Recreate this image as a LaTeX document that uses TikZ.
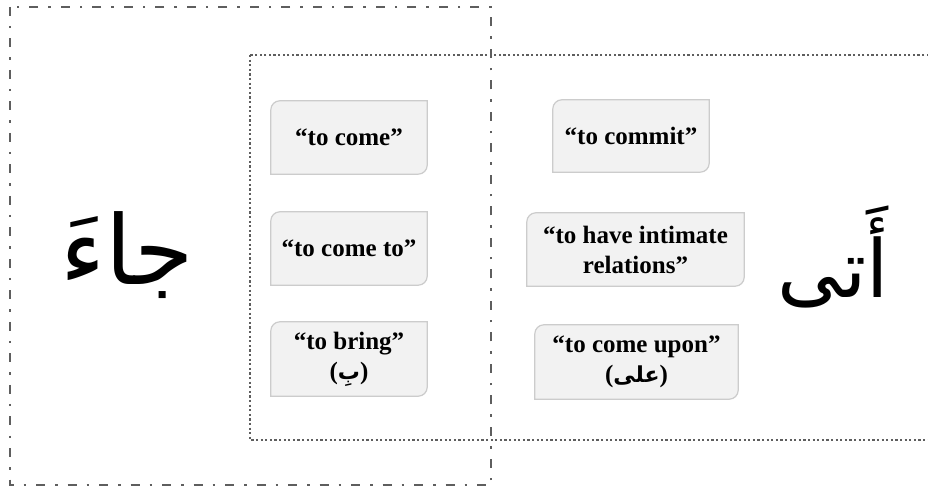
\documentclass[tikz,border=0pt]{standalone}
\usepackage{fontspec}
\setmainfont{Liberation Serif}
\newfontfamily\arabicfont[Script=Arabic]{DejaVu Sans}
\TeXXeTstate=1
\usetikzlibrary{backgrounds}
\definecolor{framegray}{HTML}{5E5E5E}
\definecolor{boxfill}{HTML}{F2F2F2}
\definecolor{boxline}{HTML}{CCCCCC}
\tikzset{
  gloss/.style={inner sep=0pt, align=center, font=\fontsize{25}{30}\selectfont\bfseries},
  framedashdot/.style={draw=framegray, line width=2.8pt, dash pattern=on 9pt off 10pt on 2.5pt off 10pt},
  framedotted/.style={draw=framegray, line width=2.8pt, dash pattern=on 2.2pt off 2.4pt},
  leafbox/.style={draw=boxline, fill=boxfill, line width=1.2pt},
  bigarabic/.style={inner sep=0pt}
}
\begin{document}
\begin{tikzpicture}[x=1pt,y=1pt]
\useasboundingbox (0,0) rectangle (928,487);
\begin{scope}
\clip (0,0) rectangle (928,487);
\coordinate (dd1) at (10,480);
\coordinate (dd2) at (491,2);
\coordinate (dt1) at (250,432);
\coordinate (dt2) at (945,47);
\draw[framedashdot] (dd1) rectangle (dd2);
\draw[framedotted] (dt1) rectangle (dt2);
\end{scope}

\node[gloss, minimum width=156pt, minimum height=73pt] (a) at (349,349.5) {“to come”};
\node[gloss, minimum width=156pt, minimum height=73pt] (b) at (349,238.5) {“to come to”};
\node[gloss, minimum width=156pt, minimum height=74pt] (c) at (349,128) {“to bring”\\({\arabicfont\fontsize{22}{30}\selectfont\beginR بِ\endR})};
\node[gloss, minimum width=156pt, minimum height=72pt] (d) at (631,351) {“to commit”};
\node[gloss, minimum width=217pt, minimum height=73pt] (e) at (635.5,237.5) {“to have intimate\\relations”};
\node[gloss, minimum width=203pt, minimum height=74pt] (f) at (636.5,125) {“to come upon”\\({\arabicfont\fontsize{22}{30}\selectfont\beginR على\endR})};

\begin{scope}[on background layer]
\foreach \n in {a,b,c,d,e,f}
  \draw[leafbox] (\n.south west) -- ([yshift=-9pt]\n.north west)
    arc[start angle=180,end angle=90,radius=9pt] -- (\n.north east)
    -- ([yshift=9pt]\n.south east) arc[start angle=0,end angle=-90,radius=9pt] -- cycle;
\end{scope}

\node[bigarabic, font=\arabicfont\fontsize{96}{100}\selectfont] (jaa) at (127,232) {\beginR جاءَ\endR};
\node[bigarabic, font=\arabicfont\fontsize{80}{90}\selectfont] (ata) at (833,230) {\beginR أَتى\endR};
\end{tikzpicture}
\end{document}
